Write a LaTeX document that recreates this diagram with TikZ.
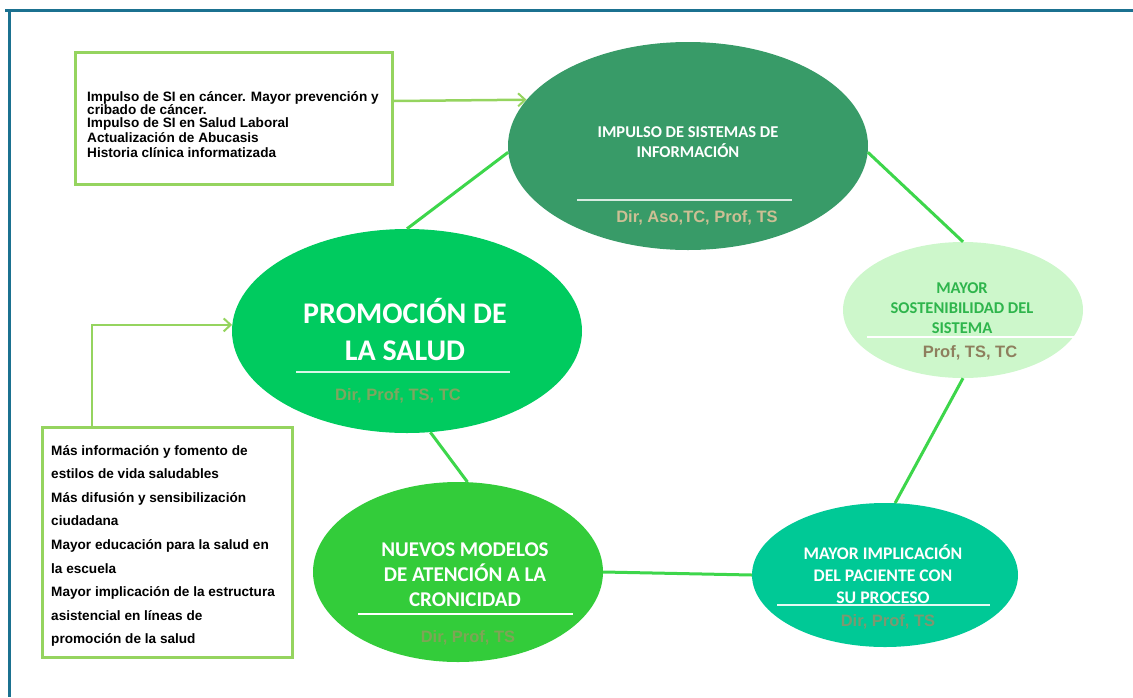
\documentclass[tikz,border=0pt]{standalone}
\usepackage{fontspec}
\setmainfont{Liberation Sans}
\newfontfamily\hfont{Carlito}
\usetikzlibrary{shapes.geometric,arrows.meta}
\definecolor{frameC}{HTML}{1B7190}
\definecolor{boxC}{HTML}{95D45F}
\definecolor{linkC}{HTML}{3DD64B}
\definecolor{impC}{HTML}{389B68}
\definecolor{sosC}{HTML}{CDF7CB}
\definecolor{sosT}{HTML}{2EB54C}
\definecolor{proC}{HTML}{00CB5F}
\definecolor{nueC}{HTML}{33CC3A}
\definecolor{impliC}{HTML}{00C996}
\definecolor{roleI}{HTML}{CDBF94}
\definecolor{roleS}{HTML}{8E7F5E}
\definecolor{roleP}{HTML}{7FA65F}
\definecolor{roleN}{HTML}{7EA556}
\definecolor{roleM}{HTML}{7D9870}
\begin{document}
\begin{tikzpicture}[x=1pt,y=-1pt,
  ell/.style={ellipse, inner sep=0pt, draw=none},
  link/.style={line width=3pt, draw=linkC},
  arr/.style={line width=2.5pt, draw=boxC, -{Straight Barb[length=7pt,width=13pt,line width=2pt]}},
  infobox/.style={rectangle, draw=boxC, line width=3pt, fill=white, inner sep=0pt},
  sepline/.style={line width=1.8pt},
  head/.style={align=center, inner sep=0pt, text=white},
  role/.style={inner sep=0pt, font=\bfseries\fontsize{16.5}{18}\selectfont},
  boxtext/.style={align=left, inner sep=0pt, anchor=north west, text=black}
]
\useasboundingbox (0,0) rectangle (1133,697);
% frame
\draw[frameC, line width=3pt] (5,10) -- (1133,10);
\draw[frameC, line width=3pt] (9,10) -- (9,697);

% ellipses
\node[ell, fill=impC, minimum width=360pt, minimum height=208pt] (I) at (688,146) {};
\node[ell, fill=sosC, minimum width=240pt, minimum height=136pt] (S) at (963,310) {};
\node[ell, fill=proC, minimum width=350pt, minimum height=204pt] (P) at (407,331) {};
\node[ell, fill=nueC, minimum width=290pt, minimum height=180pt] (N) at (458,572) {};
\node[ell, fill=impliC, minimum width=266pt, minimum height=144pt] (M) at (885,575) {};

% links
\draw[link] (P.north) -- (I.182);
\draw[link] (I.-2) -- (S.north);
\draw[link] (S.south) -- (M.82);
\draw[link] (N.east) -- (M.west);
\draw[link] (P.-77) -- (N.84);

% separators
\draw[sepline, color=white!80!impC] (577,200) -- (792,200);
\draw[sepline, color=white] (867,337) -- (1083,337);
\draw[sepline, color=white!85!proC] (296,372) -- (510,372);
\draw[sepline, color=white] (358,614) -- (573,614);
\draw[sepline, color=white!90!impliC] (777,605) -- (990,605);

% headings
\node[head, font=\hfont\bfseries\fontsize{16.5}{20}\selectfont] (Ih) at (688,142) {IMPULSO DE SISTEMAS DE\\INFORMACIÓN};
\node[head, text=sosT, font=\hfont\bfseries\fontsize{16.5}{20}\selectfont] (Sh) at (962,308) {MAYOR\\SOSTENIBILIDAD DEL\\SISTEMA};
\node[head, font=\hfont\bfseries\fontsize{30}{37}\selectfont] (Ph) at (405,330) {PROMOCIÓN DE\\LA SALUD};
\node[head, font=\hfont\bfseries\fontsize{21}{25}\selectfont] (Nh) at (465,575) {NUEVOS MODELOS\\DE ATENCIÓN A LA\\CRONICIDAD};
\node[head, font=\hfont\bfseries\fontsize{17.7}{22}\selectfont] (Mh) at (883,574) {MAYOR IMPLICACIÓN\\DEL PACIENTE CON\\SU PROCESO};

% roles
\node[role, text=roleI] (Ir) at (697,218) {Dir, Aso,TC, Prof, TS};
\node[role, text=roleS] (Sr) at (970,353) {Prof, TS, TC};
\node[role, text=roleP] (Pr) at (398,396) {Dir, Prof, TS, TC};
\node[role, text=roleN] (Nr) at (468,638) {Dir, Prof, TS};
\node[role, text=roleM] (Mr) at (888,622) {Dir, Prof, TS};

% info boxes
\node[infobox, minimum width=317pt, minimum height=132pt] (box1) at (233.5,118) {};
\node[infobox, minimum width=250pt, minimum height=230pt] (box2) at (167,542) {};
\node[boxtext, font=\bfseries\fontsize{13.6}{13}\selectfont] (t1) at (87,91)
  {Impulso de SI en cáncer. Mayor prevención y\\cribado de cáncer.\\Impulso de SI en Salud Laboral\\[2pt]Actualización de Abucasis\\[2pt]Historia clínica informatizada};
\node[boxtext, font=\bfseries\fontsize{13.6}{23.6}\selectfont] (t2) at (51,445)
  {Más información y fomento de\\estilos de vida saludables\\Más difusión y sensibilización\\ciudadana\\Mayor educación para la salud en\\la escuela\\Mayor implicación de la estructura\\asistencial en líneas de\\promoción de la salud};

% arrows
\draw[arr] ([yshift=17pt]box1.east) -- (I.164.7);
\draw[arr] ([xshift=-75pt]box2.north) |- (P.178);
\end{tikzpicture}
\end{document}
